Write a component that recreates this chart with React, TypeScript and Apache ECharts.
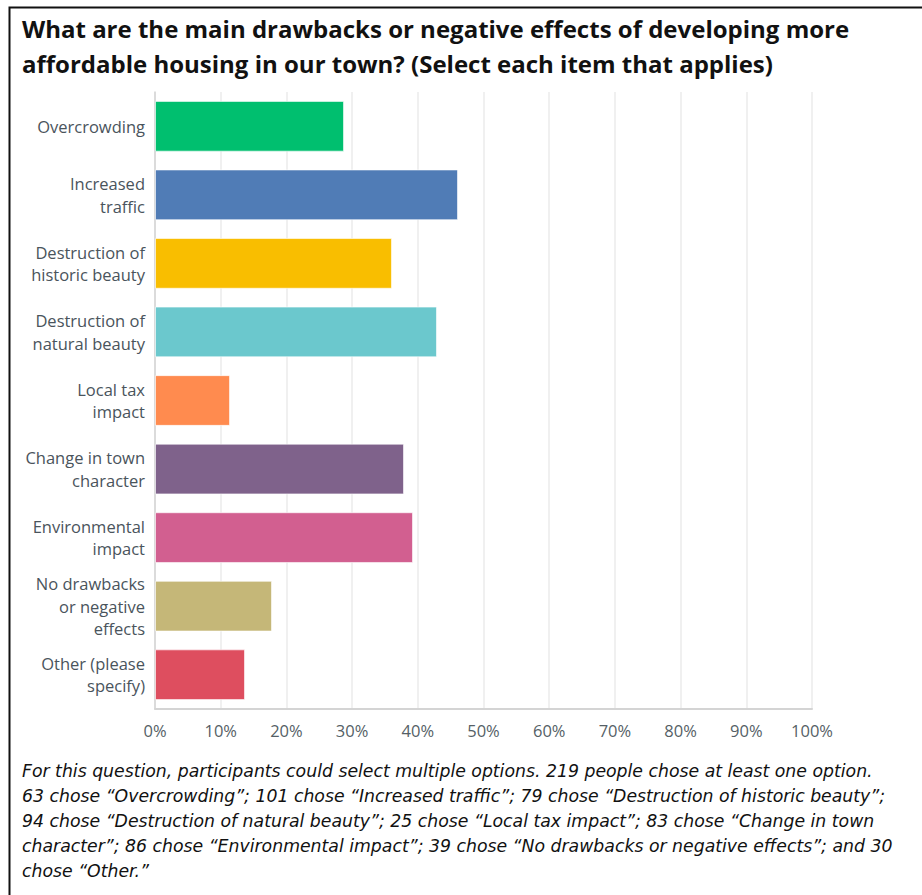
import React, { useEffect, useRef } from "react";
import * as echarts from "echarts";

const titleLines = [
  "What are the main drawbacks or negative effects of developing more",
  "affordable housing in our town? (Select each item that applies)",
];

const categories = [
  "Overcrowding",
  "Increased\ntraffic",
  "Destruction of\nhistoric beauty",
  "Destruction of\nnatural beauty",
  "Local tax\nimpact",
  "Change in town\ncharacter",
  "Environmental\nimpact",
  "No drawbacks\nor negative\neffects",
  "Other (please\nspecify)",
];

const counts = [63, 101, 79, 94, 25, 83, 86, 39, 30];
const respondents = 219;
const percentValues = counts.map((c) => Math.round((c / respondents) * 10000) / 100);

const barColors = [
  "#00BF6F",
  "#507CB6",
  "#F9BE00",
  "#6BC8CD",
  "#FF8B4F",
  "#7F628B",
  "#D25F90",
  "#C5B778",
  "#DE4E5F",
];

const xTicks = [0, 10, 20, 30, 40, 50, 60, 70, 80, 90, 100];

const footnoteLines = [
  "For this question, participants could select multiple options. 219 people chose at least one option.",
  "63 chose \u201cOvercrowding\u201d; 101 chose \u201cIncreased traffic\u201d; 79 chose \u201cDestruction of historic beauty\u201d;",
  "94 chose \u201cDestruction of natural beauty\u201d; 25 chose \u201cLocal tax impact\u201d; 83 chose \u201cChange in town",
  "character\u201d; 86 chose \u201cEnvironmental impact\u201d; 39 chose \u201cNo drawbacks or negative effects\u201d; and 30",
  "chose \u201cOther.\u201d",
];

export default function App() {
  const ref = useRef<HTMLDivElement>(null);
  useEffect(() => {
    if (!ref.current) return;
    const chart = echarts.init(ref.current, undefined, { renderer: "svg" });
    const labelFont = "'Open Sans', 'Noto Sans', sans-serif";
    const graphics: any[] = [
      {
        type: "rect",
        shape: { x: 9.5, y: 7.5, width: 1000, height: 1000 },
        style: { fill: "none", stroke: "#111", lineWidth: 2 },
        silent: true,
      },
    ];
    titleLines.forEach((t, i) => {
      graphics.push({
        type: "text",
        left: 22,
        top: 16 + i * 35,
        style: {
          text: t,
          fill: "#111",
          font: "bold 24px 'Open Sans', 'Noto Sans', sans-serif",
        },
      });
    });
    footnoteLines.forEach((t, i) => {
      graphics.push({
        type: "text",
        left: 22,
        top: 762 + i * 25,
        style: {
          text: t,
          fill: "#111",
          font: "oblique 17.3px 'DejaVu Sans', sans-serif",
        },
      });
    });
    chart.setOption({
      animation: false,
      backgroundColor: "#ffffff",
      graphic: graphics,
      grid: { left: 155, right: 110, top: 92, bottom: 186, containLabel: false },
      xAxis: {
        type: "value",
        min: 0,
        max: 100,
        interval: 10,
        axisLine: { show: true, lineStyle: { color: "#d4d4d4", width: 2 } },
        axisTick: { show: false },
        splitLine: { show: true, lineStyle: { color: "#ebebeb", width: 1.5 } },
        axisLabel: {
          formatter: (v: number) => (xTicks.includes(v) ? v + "%" : ""),
          color: "#555f66",
          fontSize: 16.5,
          fontFamily: labelFont,
          margin: 13,
        },
      },
      yAxis: {
        type: "category",
        data: categories,
        inverse: true,
        axisLine: { show: true, lineStyle: { color: "#d4d4d4", width: 1.5 } },
        axisTick: { show: false },
        splitLine: { show: false },
        axisLabel: {
          color: "#4a545c",
          fontSize: 16.5,
          fontFamily: labelFont,
          lineHeight: 22.5,
          margin: 10,
          align: "right",
        },
      },
      series: [
        {
          type: "bar",
          data: percentValues.map((v, i) => ({
            value: v,
            itemStyle: { color: barColors[i] },
          })),
          barCategoryGap: "26%",
          itemStyle: { borderColor: "rgba(255,255,255,0.6)", borderWidth: 1 },
          silent: true,
        },
      ],
    });
    return () => chart.dispose();
  }, []);
  return (
    <div
      ref={ref}
      style={{ position: "absolute", left: 0, top: 0, width: 922, height: 895 }}
    />
  );
}
